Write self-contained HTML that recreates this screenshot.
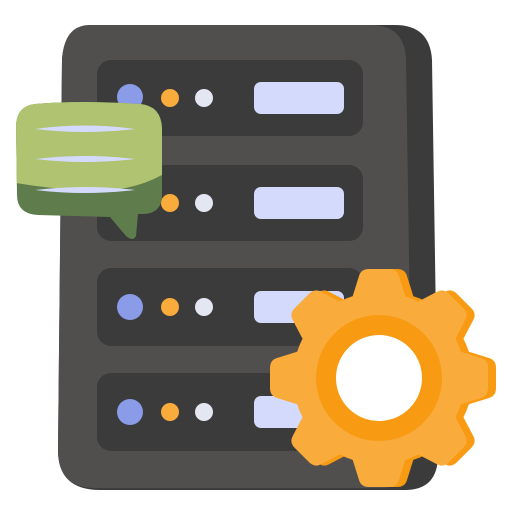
<!DOCTYPE html>
<html><head><style>html,body{margin:0;padding:0;background:#fff;}svg{display:block}</style></head>
<body>
<svg width="512" height="512" viewBox="0 0 512 512" xmlns="http://www.w3.org/2000/svg">
<defs><clipPath id="bc"><path d="M35 104 Q80 100 140 104 Q162 106 162 130 L162 195 Q162 214 142 214 L138 214 L136 236 Q133 242 126 236 L110 217 L38 215 Q17 214 17 195 L16 125 Q17 106 35 104Z"/></clipPath>
<path id="tooth" d="M-30 -70 L-20 -102 Q-18 -109 -10 -109 L10 -109 Q18 -109 20 -102 L30 -70Z"/>
<g id="teeth">
<use href="#tooth"/>
<use href="#tooth" transform="rotate(45)"/>
<use href="#tooth" transform="rotate(90)"/>
<use href="#tooth" transform="rotate(135)"/>
<use href="#tooth" transform="rotate(180)"/>
<use href="#tooth" transform="rotate(225)"/>
<use href="#tooth" transform="rotate(270)"/>
<use href="#tooth" transform="rotate(315)"/>
</g></defs>
<path d="M95 25 L395 25 Q430 25 432 60 L438 455 Q438 490 405 490 L100 490 Q58 490 58 450 L62 60 Q64 25 95 25Z" fill="#3b3b3b"/>
<path d="M90 25 L370 25 Q405 25 406 60 L412 455 Q412 488 380 488 L95 488 Q58 488 58 450 L62 60 Q64 25 90 25Z" fill="#504f4d"/>
<g fill="#3b3b3b">
<rect x="97" y="60" width="266" height="76" rx="14"/>
<rect x="97" y="165" width="266" height="76" rx="14"/>
<rect x="97" y="268" width="266" height="78" rx="14"/>
<rect x="97" y="373" width="266" height="78" rx="14"/>
</g>
<g>
<circle cx="130" cy="97" r="13" fill="#8a9be8"/><circle cx="170" cy="98" r="9" fill="#f9ab3b"/><circle cx="204" cy="98" r="9" fill="#e4e6f2"/><rect x="254" y="82" width="90" height="32" rx="7" fill="#d4dafc"/>
<circle cx="170" cy="203" r="9" fill="#f9ab3b"/><circle cx="204" cy="203" r="9" fill="#e4e6f2"/><rect x="254" y="187" width="90" height="32" rx="7" fill="#d4dafc"/>
<circle cx="130" cy="307" r="13" fill="#8a9be8"/><circle cx="170" cy="307" r="9" fill="#f9ab3b"/><circle cx="204" cy="307" r="9" fill="#e4e6f2"/><rect x="254" y="291" width="90" height="32" rx="7" fill="#d4dafc"/>
<circle cx="130" cy="412" r="13" fill="#8a9be8"/><circle cx="170" cy="412" r="9" fill="#f9ab3b"/><circle cx="204" cy="412" r="9" fill="#e4e6f2"/><rect x="254" y="396" width="90" height="32" rx="7" fill="#d4dafc"/>
</g>
<g clip-path="url(#bc)">
<rect x="0" y="90" width="180" height="160" fill="#5f7c4c"/>
<path d="M0 90 L180 90 L180 163 Q140 195 80 190 Q40 188 0 180Z" fill="#afc370"/>
</g>
<g fill="#d4dafc">
<path d="M35 129 Q85 122 135 129 Q85 135 35 129Z"/>
<path d="M35 159 Q85 153 135 159 Q85 165 35 159Z"/>
<path d="M35 190 Q85 184 135 190 Q85 196 35 190Z"/>
</g>
<g transform="translate(387,378)" fill="#f99a13">
<circle r="86"/>
<use href="#teeth"/>
</g>
<g transform="translate(379,378)" fill="#f9ab3b">
<circle r="86"/>
<use href="#teeth"/>
</g>
<circle cx="379" cy="378" r="63" fill="#f99a13"/>
<circle cx="379" cy="378" r="43" fill="#fff"/>
</svg>
</body></html>
